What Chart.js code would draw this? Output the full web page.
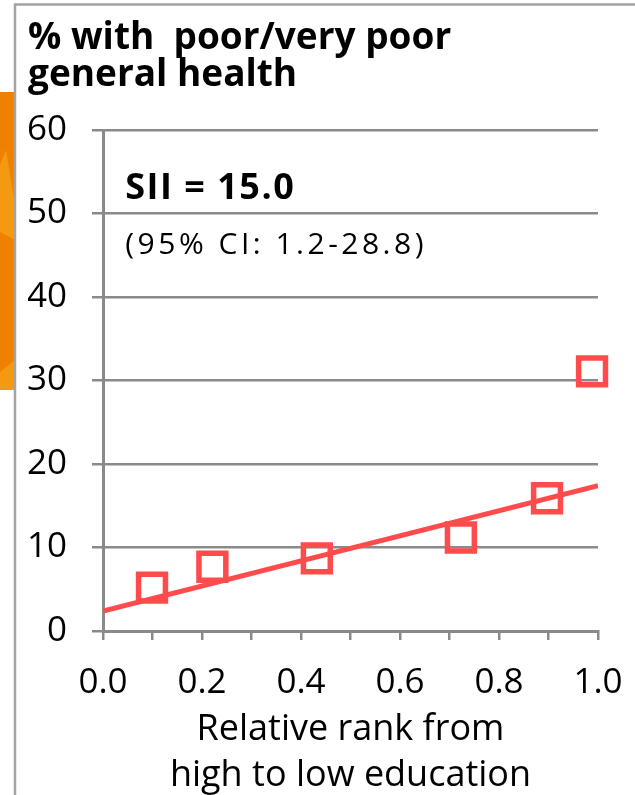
<!DOCTYPE html>
<html>
<head>
<meta charset="utf-8">
<script src="https://cdn.jsdelivr.net/npm/chart.js@4/dist/chart.umd.min.js"></script>
<style>
  html, body { margin: 0; padding: 0; background: #ffffff; }
  #wrap { position: relative; width: 635px; height: 795px; }
  canvas { display: block; }
</style>
</head>
<body>
<div id="wrap"><canvas id="chart" width="635" height="795"></canvas></div>
<script>
// Relative rank of each education group (high -> low) and share with poor health
const rankValues = [0.099, 0.221, 0.432, 0.723, 0.897, 0.988];
const poorHealthPct = [5.2, 7.7, 8.7, 11.2, 15.9, 31.1];

// Regression line (slope = SII)
const fitRank = [0, 1];
const fitPct = [2.4, 17.4];

const yTicks = [0, 10, 20, 30, 40, 50, 60];
const xTickLabels = ['0.0', '0.2', '0.4', '0.6', '0.8', '1.0'];

const titleLines = ['% with  poor/very poor', 'general health'];
const xTitleLines = ['Relative rank from', 'high to low education'];
const siiLabel = 'SII = 15.0';
const ciLabel = '(95% CI: 1.2-28.8)';

const RED = '#ff4b4b';
const GRID = '#8a8a8a';
const FONT = '"Open Sans", sans-serif';

// Target plot rectangle inside the 635x795 canvas
const PLOT = { left: 103, right: 598, top: 130, bottom: 631 };

// Slide frame: thin gray border plus the orange strip on the left
const framePlugin = {
  id: 'frame',
  beforeDraw(chart) {
    const ctx = chart.ctx;
    ctx.save();
    ctx.fillStyle = '#ee8100';
    ctx.fillRect(0, 92, 15, 298);
    ctx.fillStyle = '#f39a12';
    ctx.beginPath();
    ctx.moveTo(0, 165); ctx.lineTo(6, 150); ctx.lineTo(15, 205); ctx.lineTo(15, 240); ctx.lineTo(0, 232);
    ctx.closePath(); ctx.fill();
    ctx.beginPath();
    ctx.moveTo(0, 372); ctx.lineTo(15, 360); ctx.lineTo(15, 390); ctx.lineTo(0, 390);
    ctx.closePath(); ctx.fill();
    ctx.strokeStyle = '#a3a3a3';
    ctx.lineWidth = 2.5;
    ctx.beginPath();
    ctx.moveTo(15, 800); ctx.lineTo(15, 4.5); ctx.lineTo(640, 4.5);
    ctx.stroke();
    ctx.restore();
  }
};

// SII annotation inside the plot
const siiPlugin = {
  id: 'sii',
  afterDatasetsDraw(chart) {
    const ctx = chart.ctx;
    const xs = chart.scales.x, ys = chart.scales.y;
    const x0 = xs.getPixelForValue(0.045);
    ctx.save();
    ctx.fillStyle = '#000';
    ctx.textBaseline = 'alphabetic';
    ctx.textAlign = 'left';
    ctx.font = 'bold 36px ' + FONT;
    ctx.letterSpacing = '1.5px';
    ctx.fillText(siiLabel, x0, ys.getPixelForValue(51.7));
    ctx.font = '30px ' + FONT;
    ctx.letterSpacing = '3.5px';
    ctx.fillText(ciLabel, x0, ys.getPixelForValue(45.1));
    ctx.restore();
  }
};

const chart = new Chart(document.getElementById('chart'), {
  type: 'scatter',
  data: {
    datasets: [
      {
        type: 'scatter',
        data: rankValues.map((r, i) => ({ x: r, y: poorHealthPct[i] })),
        pointStyle: 'rect',
        pointRadius: 19,
        pointHoverRadius: 19,
        borderWidth: 5.5,
        pointBorderWidth: 5.5,
        borderColor: RED,
        pointBorderColor: RED,
        backgroundColor: 'rgba(255,255,255,0)',
        pointBackgroundColor: 'rgba(255,255,255,0)',
        clip: false,
        order: 1
      },
      {
        type: 'line',
        data: fitRank.map((r, i) => ({ x: r, y: fitPct[i] })),
        borderColor: RED,
        borderWidth: 5,
        pointRadius: 0,
        fill: false,
        order: 2
      }
    ]
  },
  options: {
    responsive: false,
    animation: false,
    devicePixelRatio: 1,
    layout: { autoPadding: false, padding: { left: 28, top: 4, right: 37, bottom: 0 } },
    plugins: {
      legend: { display: false },
      tooltip: { enabled: false },
      title: {
        display: true,
        text: titleLines,
        align: 'start',
        color: '#000',
        font: { family: FONT, size: 37, weight: 'bold', lineHeight: 1.0 },
        padding: { top: 16, bottom: 38 }
      }
    },
    scales: {
      x: {
        type: 'linear',
        min: 0,
        max: 1,
        afterFit(scale) { scale.height = 164; },
        border: { display: true, color: GRID, width: 3 },
        grid: { drawOnChartArea: false, drawTicks: true, tickLength: 9, color: GRID, lineWidth: 2.5 },
        ticks: {
          stepSize: 0.1,
          autoSkip: false,
          maxRotation: 0,
          padding: 2,
          color: '#000',
          // tall line box pushes the labels down without widening the side padding
          font: { family: FONT, size: 35, lineHeight: 2.34 },
          callback(v) {
            const k = Math.round(v * 10);
            return k % 2 === 0 ? xTickLabels[k / 2] : '';
          }
        },
        title: {
          display: true,
          text: xTitleLines,
          color: '#000',
          font: { family: FONT, size: 36, lineHeight: 1.28 },
          padding: { top: 0, bottom: -4 }
        }
      },
      y: {
        type: 'linear',
        min: 0,
        max: 60,
        afterFit(scale) { scale.width = 75; },
        afterBuildTicks(scale) { scale.ticks = yTicks.map(v => ({ value: v })); },
        border: { display: true, color: GRID, width: 3 },
        grid: { drawTicks: true, tickLength: 11, color: GRID, lineWidth: 2.5 },
        ticks: {
          padding: 25,
          color: '#000',
          font: { family: FONT, size: 35 }
        }
      }
    }
  },
  plugins: [framePlugin, siiPlugin]
});

// Nudge the outer padding so the plot area lands on the intended rectangle
for (let i = 0; i < 3; i++) {
  const a = chart.chartArea;
  const pad = chart.options.layout.padding;
  const dr = a.right - PLOT.right;
  const dt = PLOT.top - a.top;
  if (Math.abs(dr) < 0.5 && Math.abs(dt) < 0.5) break;
  pad.right += dr;
  chart.options.plugins.title.padding.bottom += dt;
  chart.update();
}
</script>
</body>
</html>
